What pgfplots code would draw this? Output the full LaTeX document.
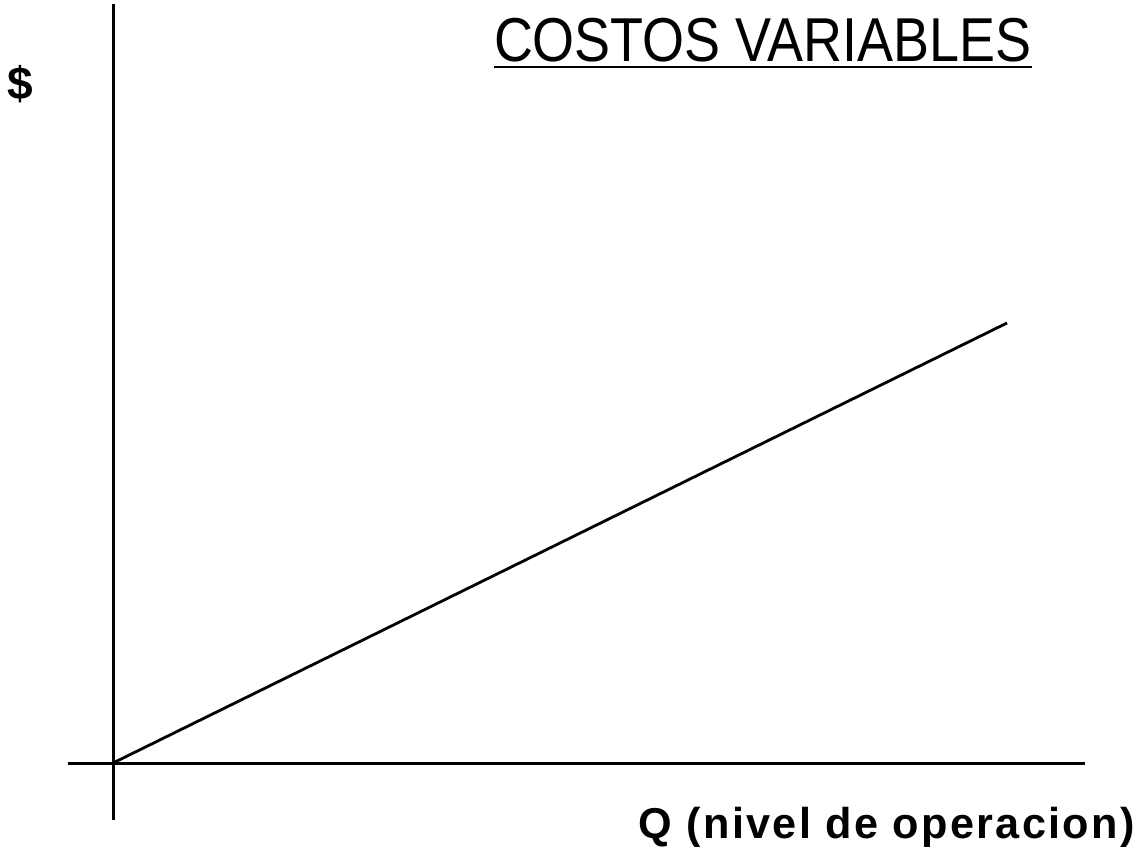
\documentclass[border=0pt]{standalone}
\usepackage{fontspec}
\setmainfont{Liberation Sans}
\newfontfamily\titlefont{Liberation Sans}[FakeStretch=0.87]
\newfontfamily\labfont{Liberation Sans}[LetterSpace=5.4]
\usepackage{pgfplots}
\pgfplotsset{compat=1.18}
\newcommand\ul[1]{\setbox0\hbox{#1}\rlap{\rule[-3.2pt]{\wd0}{1.4pt}}\box0}
\begin{document}
\begin{tikzpicture}
\begin{axis}[
  scale only axis,
  width=569pt, height=426.5pt,
  xmin=0, xmax=1138, ymin=0, ymax=853,
  axis line style={draw=none},
  ticks=none,
  clip=false,
]
% vertical axis ($)
\addplot[black, line width=1.5pt] coordinates {(113,849) (113,33)};
% horizontal axis (Q)
\addplot[black, line width=1.5pt] coordinates {(68,90) (1085,90)};
% variable cost line
\addplot[black, line width=1.4pt] coordinates {(113,90) (1007,530)};
\node[anchor=base east, inner sep=0pt, font=\titlefont\fontsize{31}{36}\selectfont] at (axis cs:1032,791) {\ul{COSTOS VARIABLES}};
\node[anchor=base west, inner sep=0pt, font=\labfont\bfseries\fontsize{23}{27}\selectfont] at (axis cs:7,753) {\$};
\node[anchor=base east, inner sep=0pt, font=\labfont\bfseries\fontsize{21.6}{26}\selectfont] at (axis cs:1135,15) {Q (nivel de operacion)};
\end{axis}
\end{tikzpicture}
\end{document}
